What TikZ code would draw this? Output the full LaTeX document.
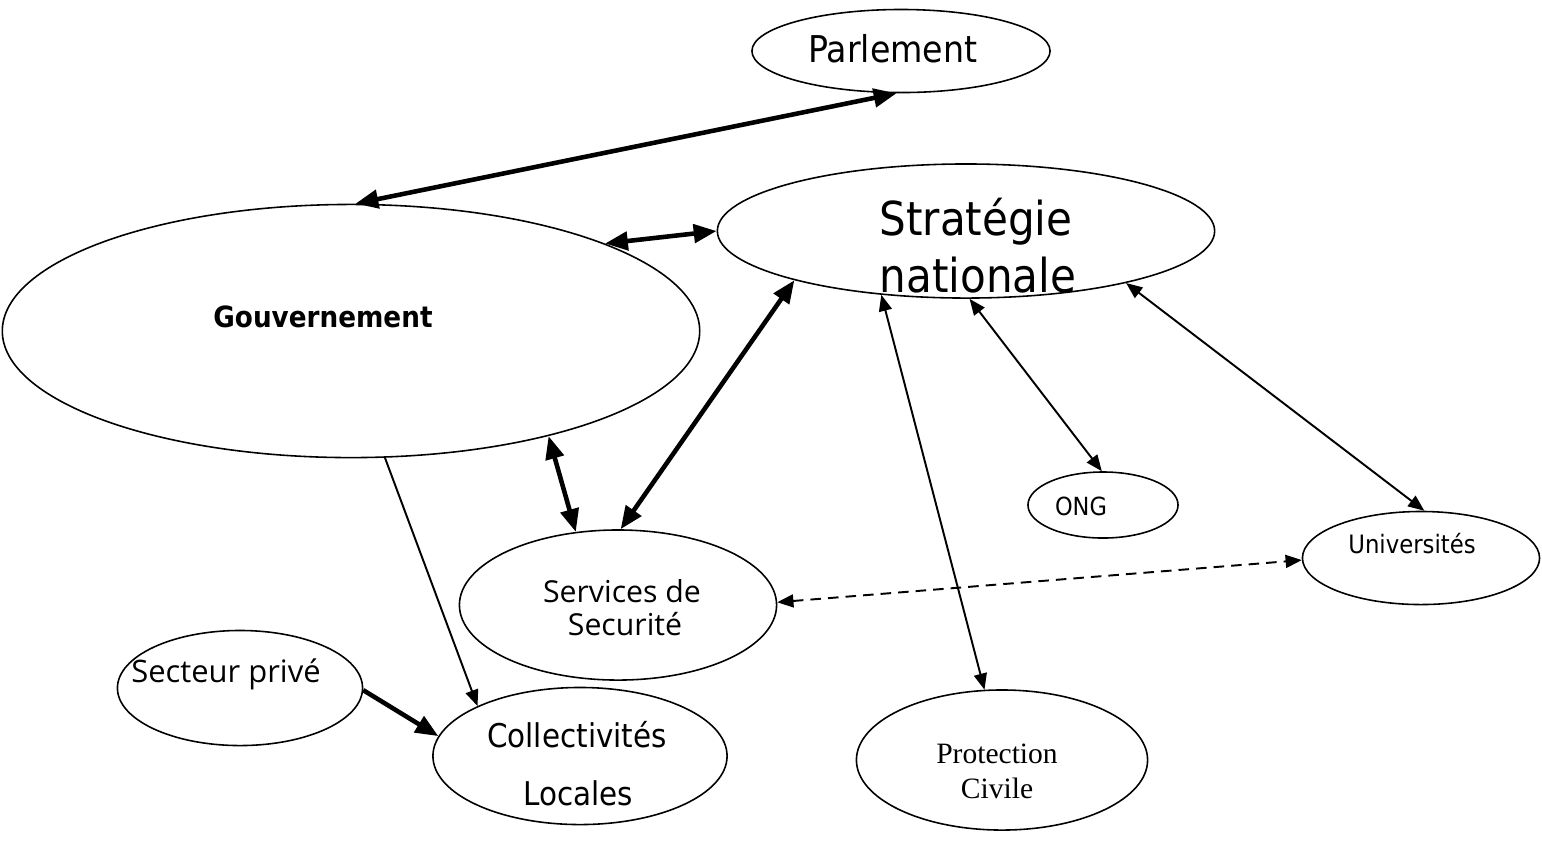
\documentclass[tikz,border=0pt]{standalone}
\usepackage{fontspec}
\usetikzlibrary{arrows.meta,shapes.geometric}
\newfontfamily\tahomafont{DejaVu Sans Condensed}
\newfontfamily\segoefont{Open Sans}
\newfontfamily\serifont{Liberation Serif}
\tikzset{
	bubble/.style={draw, ellipse, inner sep=0pt, line width=0.45pt},
	heavy/.style={line width=1.3pt},
	light/.style={line width=0.55pt},
	bigtip/.tip={Triangle[length=6.5pt,width=5.2pt]},
	smalltip/.tip={Triangle[length=4.6pt,width=3.7pt]},
	word/.style={inner sep=0pt, anchor=base},
}

\begin{document}
\begin{tikzpicture}[x=0.01cm, y=-0.01cm]
			%%%%% START %%%%%
			\useasboundingbox (0,0) rectangle (1542,850);
			
			\node[bubble, minimum width=2.98cm, minimum height=0.83cm] (parl) at (901,51) {};
			\node[bubble, minimum width=4.97cm, minimum height=1.34cm] (strat) at (966,231) {};
			\node[bubble, minimum width=6.97cm, minimum height=2.53cm] (gouv) at (351,331) {};
			\node[bubble, minimum width=1.50cm, minimum height=0.66cm] (ong) at (1103,505) {};
			\node[bubble, minimum width=2.37cm, minimum height=0.93cm] (univ) at (1421,558) {};
			\node[bubble, minimum width=3.17cm, minimum height=1.50cm] (serv) at (618,605) {};
			\node[bubble, minimum width=2.45cm, minimum height=1.15cm] (prive) at (240,688) {};
			\node[bubble, minimum width=2.94cm, minimum height=1.37cm] (coll) at (580,756) {};
			\node[bubble, minimum width=2.91cm, minimum height=1.40cm] (civ) at (1002,760) {};
			
			\node[word, font=\tahomafont\fontsize{10.5}{12}\selectfont] (parl-t) at (893,62) {Parlement};
			\node[word, font=\tahomafont\fontsize{13.3}{16}\selectfont] (strat-t1) at (976,235) {Stratégie};
			\node[word, font=\tahomafont\fontsize{13.3}{16}\selectfont] (strat-t2) at (978,292) {nationale};
			\node[word, font=\tahomafont\bfseries\fontsize{8.3}{10}\selectfont] (gouv-t) at (323,327) {Gouvernement};
			\node[word, font=\segoefont\fontsize{8.6}{10}\selectfont] (serv-t1) at (622,602) {Services de};
			\node[word, font=\segoefont\fontsize{8.6}{10}\selectfont] (serv-t2) at (625,635) {Securité};
			\node[word, font=\segoefont\fontsize{8.8}{10}\selectfont] (prive-t) at (226,682) {Secteur privé};
			\node[word, font=\tahomafont\fontsize{9.3}{11}\selectfont] (coll-t1) at (577,747) {Collectivités};
			\node[word, font=\tahomafont\fontsize{9.3}{11}\selectfont] (coll-t2) at (578,805) {Locales};
			\node[word, font=\serifont\fontsize{8.4}{10}\selectfont] (civ-t1) at (997,763) {Protection};
			\node[word, font=\serifont\fontsize{8.4}{10}\selectfont] (civ-t2) at (997,798) {Civile};
			\node[word, font=\tahomafont\fontsize{7.1}{9}\selectfont] (ong-t) at (1081,515) {ONG};
			\node[word, font=\tahomafont\fontsize{7.2}{9}\selectfont] (univ-t) at (1412,553) {Universités};
			
			\draw[heavy, bigtip-bigtip] (parl.264) -- (gouv.88);
			\draw[heavy, bigtip-bigtip] (gouv.19.5) -- (strat.180);
			\draw[heavy, bigtip-bigtip] (strat.196) -- (serv.88);
			\draw[heavy, bigtip-bigtip] (gouv.-28) -- (serv.120);
			
			\draw[light, smalltip-smalltip] (strat.-143) -- (civ.104);
			\draw[light, smalltip-smalltip] (strat.-87) -- (ong.92);
			\draw[light, smalltip-smalltip] (strat.-18) -- (univ.86);
			\draw[light, smalltip-smalltip, dash pattern=on 3pt off 2pt] (serv.1) -- (univ.181);
			
			\draw[light, -smalltip] (gouv.-75) -- (coll.154);
			\draw[heavy, -bigtip] (prive.-1) -- (coll.172);
			%%%%% END %%%%%
\end{tikzpicture}
\end{document}
